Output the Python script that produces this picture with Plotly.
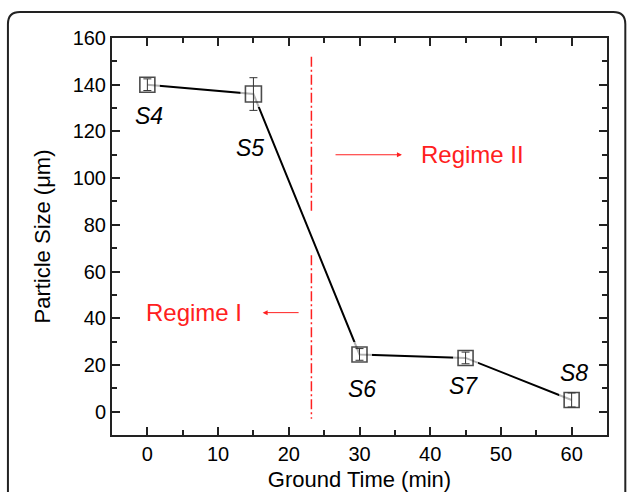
import plotly.graph_objects as go

# ---- data ----
ground_time = [0, 15, 30, 45, 60]
particle_size = [140, 136, 24.5, 23, 5]
size_err = [2.5, 7, 2.5, 2.5, 3]
sample_labels = ["S4", "S5", "S6", "S7", "S8"]
label_x = [0.2, 14.5, 30.3, 44.7, 60.3]
label_y = [126.5, 113, 9.8, 11, 16.7]
marker_sizes = [15, 16, 15, 15, 15]

boundary_x = 23.2
boundary_y_upper = [152, 86]
boundary_y_lower = [67, -3]

regime2_arrow_x = [26.4, 36.0]
regime2_y = 110
regime2_text_x = 46.0
regime1_arrow_x = [21.6, 16.3]
regime1_y = 42.4
regime1_text_x = 6.6

FONT = "Liberation Sans, Arial, sans-serif"
RED = "#ff2020"

fig = go.Figure()

# connecting line
fig.add_trace(go.Scatter(x=ground_time, y=particle_size, mode="lines",
                         line=dict(color="black", width=2), hoverinfo="skip",
                         showlegend=False))
# white mask to create gap between line and marker
fig.add_trace(go.Scatter(x=ground_time, y=particle_size, mode="markers",
                         marker=dict(symbol="square", size=[s + 10 for s in marker_sizes],
                                     color="white", line=dict(width=0)),
                         hoverinfo="skip", showlegend=False))
# open squares
fig.add_trace(go.Scatter(x=ground_time, y=particle_size, mode="markers",
                         marker=dict(symbol="square-open", size=marker_sizes,
                                     color="black", line=dict(width=1.6)),
                         showlegend=False))
# error bars
fig.add_trace(go.Scatter(x=ground_time, y=particle_size, mode="markers",
                         marker=dict(size=0.1, color="rgba(0,0,0,0)"),
                         error_y=dict(type="data", array=size_err, visible=True,
                                      color="#333333", thickness=1, width=4),
                         hoverinfo="skip", showlegend=False))

# regime boundary (dash-dot)
fig.add_trace(go.Scatter(x=[boundary_x, boundary_x, None, boundary_x, boundary_x],
                         y=boundary_y_upper + [None] + boundary_y_lower,
                         mode="lines", line=dict(color=RED, width=1.5, dash="10px,3px,2px,3px"),
                         hoverinfo="skip", showlegend=False))

# sample labels
for lx, ly, t in zip(label_x, label_y, sample_labels):
    fig.add_annotation(x=lx, y=ly, text=f"<i>{t}</i>", showarrow=False,
                       font=dict(family=FONT, size=23, color="black"))

# regime arrows + texts
fig.add_annotation(x=regime2_arrow_x[1], y=regime2_y, ax=regime2_arrow_x[0], ay=regime2_y,
                   xref="x", yref="y", axref="x", ayref="y", text="", showarrow=True,
                   arrowhead=2, arrowsize=1, arrowwidth=1, arrowcolor=RED)
fig.add_annotation(x=regime2_text_x, y=regime2_y, text="Regime II", showarrow=False,
                   font=dict(family=FONT, size=24, color=RED))
fig.add_annotation(x=regime1_arrow_x[1], y=regime1_y, ax=regime1_arrow_x[0], ay=regime1_y,
                   xref="x", yref="y", axref="x", ayref="y", text="", showarrow=True,
                   arrowhead=2, arrowsize=1, arrowwidth=1, arrowcolor=RED)
fig.add_annotation(x=regime1_text_x, y=regime1_y, text="Regime I", showarrow=False,
                   font=dict(family=FONT, size=24, color=RED))

# rounded outer frame (paper coords)
L, T, B = 112, 38, 57
W, H = 630 - L - 23.3, 492 - T - B
def px(x): return (x - L) / W
def py(y): return (492 - B - y) / H
x0, x1, yt, yb = px(8), px(625), py(12), py(520)
rx, ry = 12 / W, 12 / H
path = (f"M {x0},{yb} L {x0},{yt-ry} Q {x0},{yt} {x0+rx},{yt} "
        f"L {x1-rx},{yt} Q {x1},{yt} {x1},{yt-ry} L {x1},{yb}")
fig.add_shape(type="path", path=path, xref="paper", yref="paper",
              line=dict(color="#222222", width=2))

axis_common = dict(showgrid=False, zeroline=False, showline=True, linecolor="#222222",
                   linewidth=2, mirror="ticks", ticks="inside", ticklen=8, tickwidth=1.5,
                   tickcolor="#222222", automargin=False,
                   tickfont=dict(family=FONT, size=20, color="black"),
                   title_font=dict(family=FONT, size=22, color="black"))

fig.update_xaxes(range=[-5, 65], dtick=10, tick0=0,
                 minor=dict(ticks="inside", dtick=5, tick0=0, ticklen=5,
                            tickwidth=1.5, tickcolor="#222222"),
                 title_text="Ground Time (min)", title_standoff=14, **axis_common)
fig.update_yaxes(range=[-10, 160], dtick=20, tick0=0,
                 minor=dict(ticks="inside", dtick=10, tick0=0, ticklen=5,
                            tickwidth=1.5, tickcolor="#222222"),
                 title_text="Particle Size (μm)", title_standoff=16, **axis_common)

fig.update_layout(width=630, height=492, margin=dict(l=L, r=23.3, t=T, b=B),
                  paper_bgcolor="white", plot_bgcolor="white",
                  font=dict(family=FONT))

fig.write_html("out.html", config={"displayModeBar": False},
               post_script="document.body.style.margin='0';document.body.style.overflow='hidden';")
